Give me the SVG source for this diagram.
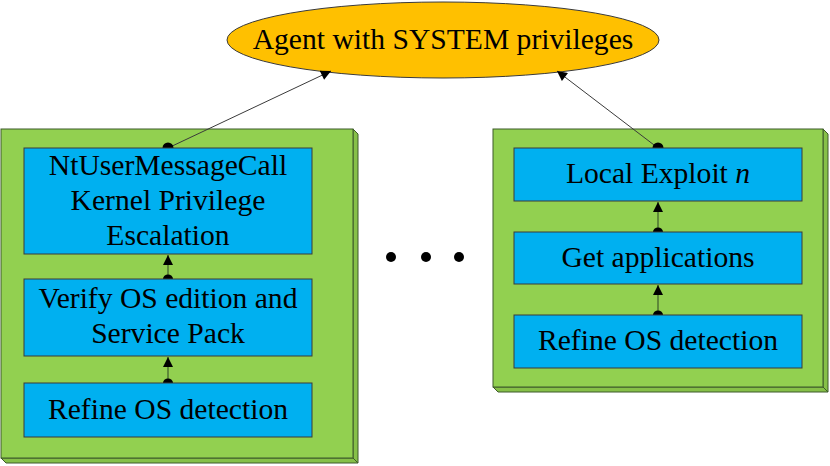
<svg xmlns="http://www.w3.org/2000/svg" width="830" height="466" viewBox="0 0 830 466">
<style>
.txt{font-family:"Liberation Serif","Times New Roman",serif;font-size:29.6px;fill:#000;text-anchor:middle}
.front{fill:#92D050;stroke:#3d5a2a;stroke-width:1}
.side{fill:#86c048;stroke:#3d5a2a;stroke-width:1}
.inner{fill:#00B0F0;stroke:#3a3a3a;stroke-width:1}
.link{stroke:#3a3a3a;stroke-width:1;fill:none}
.up{stroke:#3d5a2a;stroke-width:1.2;fill:none}
.dot{fill:#000}
</style>
<defs>
<marker id="ah" viewBox="0 0 10 10" refX="10" refY="5" markerWidth="11" markerHeight="10" markerUnits="userSpaceOnUse" orient="auto">
<path d="M0,0 L10,5 L0,10 Z" fill="#000"/>
</marker>
</defs>
<g id="agent">
<ellipse cx="443" cy="40" rx="216" ry="38" fill="#FFC000" stroke="#3a3a3a" stroke-width="1"/>
<text class="txt" x="443" y="49">Agent with SYSTEM privileges</text>
</g>
<g id="left-group">
<polygon class="side" points="353,129 358,134 358,463 353,458"/>
<polygon class="side" points="1,458 353,458 358,463 6,463"/>
<rect class="front" x="1" y="129" width="352" height="329"/>
</g>
<g id="right-group">
<polygon class="side" points="823,129 828,134 828,392 823,387"/>
<polygon class="side" points="493,387 823,387 828,392 498,392"/>
<rect class="front" x="493" y="129" width="330" height="258"/>
</g>
<g id="connectors">
<line class="link" x1="168" y1="148" x2="331" y2="71" marker-end="url(#ah)"/>
<line class="link" x1="658" y1="148" x2="557" y2="71" marker-end="url(#ah)"/>
<line class="up" x1="168" y1="279" x2="168" y2="255" marker-end="url(#ah)"/>
<line class="up" x1="168" y1="383" x2="168" y2="357" marker-end="url(#ah)"/>
<line class="up" x1="658" y1="232" x2="658" y2="202" marker-end="url(#ah)"/>
<line class="up" x1="658" y1="315" x2="658" y2="285" marker-end="url(#ah)"/>
<path class="dot" d="M162.5,148 A5.5,5.5 0 0 1 173.5,148 Z"/>
<path class="dot" d="M652.5,148 A5.5,5.5 0 0 1 663.5,148 Z"/>
<path class="dot" d="M163,279 A5,4.5 0 0 1 173,279 Z"/>
<path class="dot" d="M163,383 A5,4.5 0 0 1 173,383 Z"/>
<path class="dot" d="M653,232 A5,4.5 0 0 1 663,232 Z"/>
<path class="dot" d="M653,315 A5,4.5 0 0 1 663,315 Z"/>
</g>
<g id="ntuser">
<rect class="inner" x="24" y="148" width="288" height="106"/>
<text class="txt" x="168" y="175">NtUserMessageCall</text>
<text class="txt" x="168" y="210">Kernel Privilege</text>
<text class="txt" x="168" y="245">Escalation</text>
</g>
<g id="verify">
<rect class="inner" x="24" y="279" width="288" height="77"/>
<text class="txt" x="168" y="308">Verify OS edition and</text>
<text class="txt" x="168" y="343">Service Pack</text>
</g>
<g id="refine-left">
<rect class="inner" x="24" y="383" width="288" height="54"/>
<text class="txt" x="168" y="419">Refine OS detection</text>
</g>
<g id="local-exploit">
<rect class="inner" x="514" y="148" width="288" height="53"/>
<text class="txt" x="658" y="183">Local Exploit <tspan font-style="italic">n</tspan></text>
</g>
<g id="get-apps">
<rect class="inner" x="514" y="232" width="288" height="52"/>
<text class="txt" x="658" y="267">Get applications</text>
</g>
<g id="refine-right">
<rect class="inner" x="514" y="315" width="288" height="53"/>
<text class="txt" x="658" y="350">Refine OS detection</text>
</g>
<g id="ellipsis">
<circle cx="391" cy="257" r="5" fill="#000"/>
<circle cx="426" cy="257" r="5" fill="#000"/>
<circle cx="459" cy="257" r="5" fill="#000"/>
</g>
</svg>
